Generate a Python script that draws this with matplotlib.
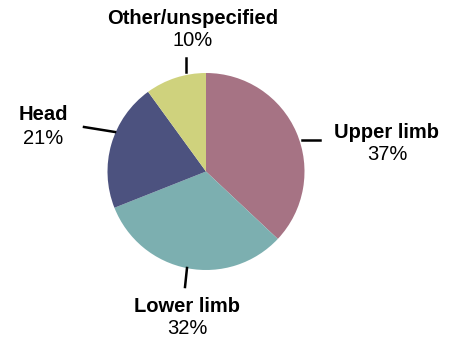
import matplotlib.pyplot as plt

plt.rcParams["font.family"] = ["Liberation Sans", "DejaVu Sans"]

categories = ["Upper limb", "Lower limb", "Head", "Other/unspecified"]
shares = [37, 32, 21, 10]
colors = ["#A67384", "#7CAFB0", "#4C527F", "#CFD27D"]

W, H = 454, 337
fig = plt.figure(figsize=(W / 100, H / 100), dpi=100)
ax = fig.add_axes([0, 0, 1, 1])

cx, cy, r = 206, H - 171.5, 98.5
ax.pie(shares, colors=colors, startangle=90, counterclock=False,
       center=(cx, cy), radius=r, wedgeprops=dict(linewidth=0))
ax.set_xlim(0, W)
ax.set_ylim(0, H)
ax.set_aspect("equal")
ax.axis("off")

# label text positions and leader lines, in pixel coords (top-left origin)
label_pos = {
    "Upper limb": (387, 132),
    "Lower limb": (187, 306),
    "Head": (43, 115),
    "Other/unspecified": (193, 18),
}
leaders = {
    "Upper limb": ((302, 140), (320, 140)),
    "Lower limb": ((187, 268), (185, 287)),
    "Head": ((84, 127), (115, 132)),
    "Other/unspecified": ((186, 58), (186, 72)),
}

for name, val in zip(categories, shares):
    x, y = label_pos[name]
    ax.text(x, H - y, name, ha="center", va="center", fontsize=14.5,
            fontweight="bold", color="black")
    ax.text(x, H - y - 23, f"{val}%", ha="center", va="center",
            fontsize=14.5, color="black")
    (x0, y0), (x1, y1) = leaders[name]
    ax.plot([x0, x1], [H - y0, H - y1], color="black", linewidth=1.8)

fig.savefig("out.png", dpi=100)
